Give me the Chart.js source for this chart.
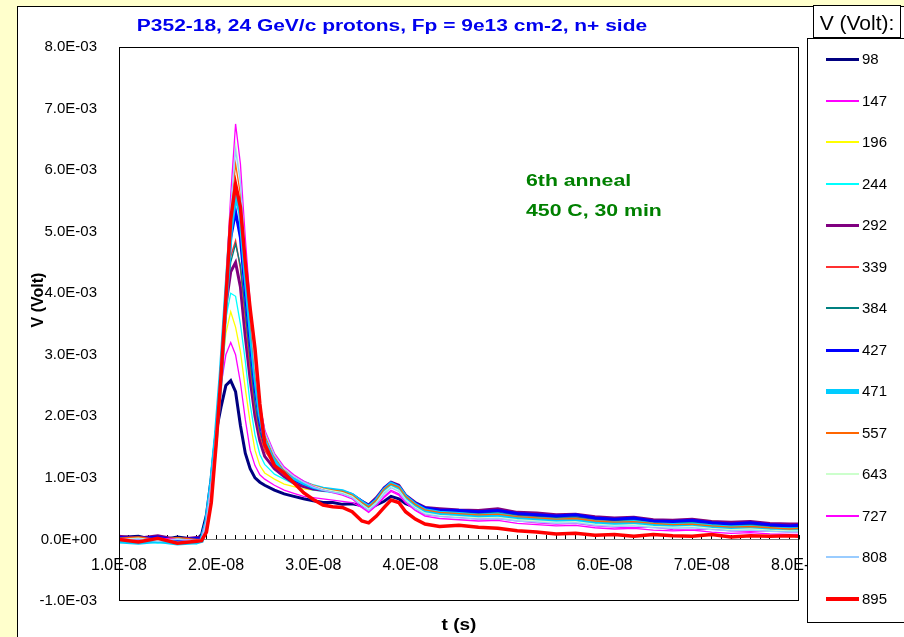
<!DOCTYPE html>
<html>
<head>
<meta charset="utf-8">
<script src="https://cdn.jsdelivr.net/npm/chart.js@4.4.1/dist/chart.umd.min.js"></script>
<style>
  html, body { margin: 0; padding: 0; background: #ffffcc; }
  canvas { display: block; }
</style>
</head>
<body>
<canvas id="pulse" width="904" height="637"></canvas>
<script>
// time axis in ns (labels shown in seconds), signal in mV (labels shown in volts)
const tNs = [10, 12, 14, 16, 18, 18.5, 19, 19.5, 20, 20.5, 21, 21.5, 22, 22.5, 23, 23.5, 24, 24.5, 25,
  26, 27, 28, 29, 30, 31, 32, 33, 34, 35, 35.7, 36.5, 37.3, 38, 38.8, 39.5, 40.5, 41.5, 43,
  45, 47, 49, 51, 53, 55, 57, 59, 61, 63, 65, 67, 69, 71, 73, 75, 77, 79, 80];

const voltages = ['98', '147', '196', '244', '292', '339', '384', '427', '471', '557', '643', '727', '808', '895'];

const v98 = [0.03, 0.05, -0.02, 0.04, 0.0,
  0.08, 0.4, 1.0, 1.75, 2.15, 2.5, 2.58, 2.4, 1.85, 1.4, 1.15, 1.0, 0.93, 0.88,
  0.8, 0.74, 0.7, 0.66, 0.63, 0.6, 0.6, 0.57, 0.58, 0.55,
  0.5, 0.56, 0.62, 0.7, 0.66, 0.58, 0.52, 0.47, 0.46,
  0.44, 0.45, 0.4, 0.42, 0.38, 0.36, 0.37, 0.33, 0.31, 0.33, 0.28, 0.27, 0.29, 0.26, 0.24, 0.25, 0.22, 0.21, 0.22];
const v147 = [0.0, 0.03, 0.05, -0.03, 0.02,
  0.02, 0.3, 0.9, 1.7, 2.5, 3.0, 3.2, 3.0, 2.55, 1.95, 1.45, 1.2, 1.05, 0.98,
  0.88, 0.8, 0.75, 0.7, 0.68, 0.66, 0.64, 0.62, 0.6, 0.52,
  0.46, 0.55, 0.68, 0.78, 0.72, 0.6, 0.48, 0.4, 0.38,
  0.36, 0.33, 0.34, 0.3, 0.27, 0.25, 0.26, 0.22, 0.2, 0.19, 0.2, 0.16, 0.15, 0.17, 0.14, 0.13, 0.14, 0.12, 0.12];
const v196 = [-0.02, 0.02, 0.0, 0.03, -0.03,
  0.0, 0.3, 0.9, 1.7, 2.6, 3.35, 3.7, 3.45, 3.05, 2.45, 1.9, 1.45, 1.2, 1.08,
  0.98, 0.9, 0.86, 0.82, 0.8, 0.8, 0.78, 0.76, 0.72, 0.62,
  0.55, 0.66, 0.8, 0.9, 0.84, 0.7, 0.6, 0.52, 0.5,
  0.48, 0.46, 0.47, 0.43, 0.41, 0.4, 0.38, 0.36, 0.35, 0.36, 0.32, 0.31, 0.33, 0.3, 0.27, 0.28, 0.26, 0.24, 0.25];
const v244 = [-0.05, -0.03, -0.06, -0.04, -0.07,
  -0.03, 0.28, 0.9, 1.7, 2.7, 3.6, 4.0, 3.95, 3.5, 2.9, 2.2, 1.7, 1.38, 1.22,
  1.06, 0.98, 0.9, 0.85, 0.8, 0.78, 0.76, 0.75, 0.7, 0.6,
  0.52, 0.62, 0.78, 0.88, 0.82, 0.68, 0.57, 0.48, 0.44,
  0.42, 0.4, 0.41, 0.37, 0.35, 0.33, 0.34, 0.3, 0.29, 0.3, 0.26, 0.25, 0.26, 0.23, 0.21, 0.22, 0.19, 0.18, 0.18];
const v292 = [0.05, 0.02, 0.06, 0.0, 0.03,
  0.02, 0.3, 0.9, 1.7, 2.7, 3.8, 4.35, 4.5, 4.1, 3.3, 2.6, 2.0, 1.6, 1.35,
  1.15, 1.02, 0.92, 0.86, 0.82, 0.8, 0.79, 0.77, 0.72, 0.62,
  0.56, 0.68, 0.84, 0.93, 0.88, 0.72, 0.6, 0.52, 0.5,
  0.48, 0.47, 0.5, 0.44, 0.43, 0.4, 0.41, 0.37, 0.35, 0.36, 0.32, 0.31, 0.33, 0.29, 0.28, 0.29, 0.26, 0.25, 0.25];
const v339 = [0.0, -0.02, 0.03, -0.04, 0.01,
  0.0, 0.3, 0.9, 1.7, 2.7, 3.85, 4.6, 4.85, 4.4, 3.6, 2.8, 2.15, 1.7, 1.45,
  1.2, 1.05, 0.95, 0.88, 0.83, 0.8, 0.78, 0.76, 0.71, 0.6,
  0.53, 0.64, 0.8, 0.9, 0.84, 0.69, 0.57, 0.49, 0.46,
  0.44, 0.42, 0.43, 0.39, 0.37, 0.35, 0.36, 0.32, 0.3, 0.31, 0.28, 0.26, 0.27, 0.24, 0.22, 0.23, 0.21, 0.19, 0.2];
const v384 = [0.02, 0.0, -0.03, 0.02, -0.01,
  0.0, 0.3, 0.9, 1.7, 2.7, 3.85, 4.5, 4.8, 4.45, 3.7, 2.9, 2.2, 1.75, 1.5,
  1.22, 1.07, 0.97, 0.9, 0.84, 0.81, 0.79, 0.77, 0.72, 0.61,
  0.54, 0.65, 0.81, 0.91, 0.85, 0.7, 0.58, 0.5, 0.47,
  0.45, 0.43, 0.44, 0.4, 0.38, 0.36, 0.37, 0.33, 0.31, 0.32, 0.28, 0.27, 0.28, 0.25, 0.23, 0.24, 0.21, 0.2, 0.2];
const v427 = [0.03, 0.01, 0.04, -0.02, 0.02,
  0.0, 0.3, 0.9, 1.7, 2.7, 3.9, 4.9, 5.32, 4.9, 4.0, 3.2, 2.45, 1.9, 1.55,
  1.25, 1.08, 0.97, 0.9, 0.84, 0.81, 0.8, 0.78, 0.73, 0.62,
  0.55, 0.66, 0.83, 0.92, 0.86, 0.71, 0.59, 0.51, 0.48,
  0.47, 0.45, 0.47, 0.42, 0.4, 0.38, 0.4, 0.35, 0.33, 0.35, 0.3, 0.29, 0.31, 0.27, 0.25, 0.27, 0.24, 0.22, 0.23];
const v471 = [-0.03, -0.05, -0.02, -0.06, -0.04,
  -0.02, 0.28, 0.9, 1.7, 2.7, 3.9, 5.05, 5.62, 5.3, 4.35, 3.5, 2.7, 2.05, 1.65,
  1.3, 1.1, 1.0, 0.92, 0.86, 0.82, 0.8, 0.78, 0.72, 0.6,
  0.52, 0.63, 0.8, 0.9, 0.84, 0.69, 0.56, 0.47, 0.43,
  0.41, 0.38, 0.4, 0.35, 0.33, 0.31, 0.32, 0.28, 0.26, 0.28, 0.24, 0.23, 0.24, 0.21, 0.19, 0.2, 0.17, 0.16, 0.16];
const v557 = [0.02, 0.04, 0.0, 0.03, 0.0,
  0.0, 0.3, 0.9, 1.7, 2.75, 4.0, 5.3, 6.1, 5.6, 4.5, 3.6, 2.75, 2.1, 1.7,
  1.35, 1.13, 1.02, 0.94, 0.88, 0.83, 0.8, 0.78, 0.72, 0.6,
  0.53, 0.64, 0.82, 0.9, 0.85, 0.7, 0.57, 0.48, 0.44,
  0.42, 0.4, 0.41, 0.37, 0.35, 0.33, 0.34, 0.3, 0.28, 0.29, 0.26, 0.24, 0.25, 0.22, 0.2, 0.21, 0.19, 0.17, 0.18];
const v643 = [0.0, 0.02, -0.02, 0.01, -0.02,
  0.0, 0.3, 0.9, 1.7, 2.75, 4.05, 5.45, 6.42, 5.85, 4.7, 3.75, 2.85, 2.15, 1.75,
  1.38, 1.15, 1.03, 0.94, 0.87, 0.82, 0.79, 0.76, 0.7, 0.57,
  0.49, 0.6, 0.77, 0.86, 0.8, 0.65, 0.52, 0.43, 0.39,
  0.37, 0.35, 0.36, 0.32, 0.3, 0.28, 0.29, 0.25, 0.23, 0.24, 0.21, 0.2, 0.21, 0.18, 0.16, 0.17, 0.15, 0.14, 0.14];
const v727 = [0.01, -0.01, 0.02, 0.0, -0.02,
  0.0, 0.3, 0.9, 1.7, 2.8, 4.1, 5.6, 6.75, 6.1, 4.9, 3.85, 2.9, 2.2, 1.78,
  1.4, 1.18, 1.05, 0.95, 0.86, 0.8, 0.76, 0.72, 0.66, 0.52,
  0.44, 0.55, 0.7, 0.8, 0.74, 0.6, 0.47, 0.38, 0.34,
  0.32, 0.3, 0.31, 0.26, 0.24, 0.22, 0.23, 0.19, 0.17, 0.18, 0.15, 0.14, 0.15, 0.12, 0.1, 0.11, 0.09, 0.08, 0.08];
const v808 = [-0.01, 0.01, -0.03, 0.0, -0.02,
  0.0, 0.3, 0.9, 1.7, 2.75, 4.05, 5.4, 6.32, 5.8, 4.65, 3.7, 2.8, 2.15, 1.74,
  1.37, 1.15, 1.02, 0.93, 0.85, 0.8, 0.77, 0.74, 0.68, 0.55,
  0.47, 0.58, 0.74, 0.84, 0.78, 0.63, 0.5, 0.41, 0.37,
  0.35, 0.33, 0.34, 0.3, 0.28, 0.26, 0.27, 0.23, 0.21, 0.22, 0.19, 0.18, 0.19, 0.16, 0.14, 0.15, 0.13, 0.12, 0.12];
const v895 = [0.0, -0.04, 0.02, -0.06, -0.03,
  -0.02, 0.12, 0.6, 1.55, 2.65, 3.9, 5.2, 5.77, 5.4, 4.5, 3.75, 3.1, 2.2, 1.55,
  1.2, 1.08, 0.92, 0.76, 0.65, 0.56, 0.53, 0.52, 0.45, 0.3,
  0.27, 0.38, 0.52, 0.64, 0.6, 0.45, 0.33, 0.25, 0.21,
  0.23, 0.2, 0.18, 0.14, 0.12, 0.09, 0.1, 0.07, 0.08, 0.05, 0.08, 0.06, 0.05, 0.08, 0.04, 0.06, 0.05, 0.06, 0.05];

const seriesValues = [v98, v147, v196, v244, v292, v339, v384, v427, v471, v557, v643, v727, v808, v895];

const xTickLabels = ['1.0E-08', '2.0E-08', '3.0E-08', '4.0E-08', '5.0E-08', '6.0E-08', '7.0E-08', '8.0E-08'];
const yTickLabels = ['-1.0E-03', '0.0E+00', '1.0E-03', '2.0E-03', '3.0E-03', '4.0E-03', '5.0E-03', '6.0E-03', '7.0E-03', '8.0E-03'];

// styles
const lineColors = ['#000080', '#ff00ff', '#ffff00', '#00ffff', '#800080', '#ff3030', '#008080',
  '#0000ff', '#00ccff', '#ff6600', '#ccffcc', '#ff00ff', '#99ccff', '#ff0000'];
const lineWidths = [3, 1.3, 1.3, 1.3, 3, 1.5, 1.3, 3, 4.5, 1.3, 1.3, 1.3, 1.3, 3.5];

const FONT = "'Liberation Sans', Arial, sans-serif";

function stretchText(ctx, text, x, y, font, color, sx, align) {
  ctx.save();
  ctx.font = font;
  ctx.fillStyle = color;
  ctx.textAlign = align;
  ctx.textBaseline = 'alphabetic';
  ctx.translate(x, y);
  ctx.scale(sx, 1);
  ctx.fillText(text, 0, 0);
  ctx.restore();
}

const decorations = {
  id: 'decorations',
  beforeDraw(chart) {
    const ctx = chart.ctx;
    ctx.save();
    ctx.fillStyle = '#ffffcc';
    ctx.fillRect(0, 0, chart.width, chart.height);
    ctx.fillStyle = '#ffffff';
    ctx.fillRect(17.5, 6.5, 900, 640);
    ctx.strokeStyle = '#000000';
    ctx.lineWidth = 1;
    ctx.strokeRect(17.5, 6.5, 900, 640);
    ctx.restore();
  },
  afterDraw(chart) {
    const ctx = chart.ctx;
    const ca = chart.chartArea;
    ctx.save();
    // plot area frame
    ctx.strokeStyle = '#000000';
    ctx.lineWidth = 1;
    ctx.strokeRect(ca.left + 0.5, ca.top + 0.5, ca.right - ca.left - 1, ca.bottom - ca.top - 1);

    // titles
    stretchText(ctx, 'P352-18, 24 GeV/c protons, Fp = 9e13 cm-2, n+ side', 392, 31,
      'bold 16px ' + FONT, '#0000ee', 1.31, 'center');
    stretchText(ctx, '6th anneal', 526, 186, 'bold 17px ' + FONT, '#008000', 1.25, 'left');
    stretchText(ctx, '450 C, 30 min', 526, 216, 'bold 17px ' + FONT, '#008000', 1.25, 'left');
    stretchText(ctx, 't (s)', 459, 630, 'bold 17px ' + FONT, '#000000', 1.12, 'center');

    ctx.save();
    ctx.translate(43, 300);
    ctx.rotate(-Math.PI / 2);
    ctx.font = 'bold 16px ' + FONT;
    ctx.fillStyle = '#000000';
    ctx.textAlign = 'center';
    ctx.fillText('V (Volt)', 0, 0);
    ctx.restore();

    // legend title box
    ctx.fillStyle = '#ffffff';
    ctx.fillRect(813.5, 5.5, 87, 32);
    ctx.strokeRect(813.5, 5.5, 87, 32);
    stretchText(ctx, 'V (Volt):', 857, 30, '21px ' + FONT, '#000000', 1.0, 'center');

    // legend box
    ctx.fillStyle = '#ffffff';
    ctx.fillRect(807.5, 38.5, 110, 584);
    ctx.strokeStyle = '#000000';
    ctx.strokeRect(807.5, 38.5, 110, 584);
    ctx.font = '15px ' + FONT;
    ctx.textBaseline = 'middle';
    ctx.textAlign = 'left';
    chart.data.datasets.forEach((ds, i) => {
      const row = Math.round(59 + i * 41.5);
      const lw = ds.borderWidth < 2 ? 2 : Math.round(ds.borderWidth);
      const y = lw % 2 === 1 ? row + 0.5 : row;
      ctx.strokeStyle = ds.borderColor;
      ctx.lineWidth = lw;
      ctx.lineCap = 'butt';
      ctx.beginPath();
      ctx.moveTo(826, y);
      ctx.lineTo(859, y);
      ctx.stroke();
      ctx.fillStyle = '#000000';
      ctx.fillText(ds.label, 862, row + 1);
    });
    ctx.restore();
  }
};

const datasets = voltages.map((name, i) => ({
  label: name,
  data: seriesValues[i].map((v, k) => ({ x: tNs[k], y: v })),
  borderColor: lineColors[i],
  borderWidth: lineWidths[i],
  pointRadius: 0,
  tension: 0,
  fill: false,
  order: voltages.length - 1 - i
}));

new Chart(document.getElementById('pulse'), {
  type: 'line',
  data: { datasets: datasets },
  options: {
    responsive: false,
    animation: false,
    devicePixelRatio: 1,
    layout: { padding: { left: 17, top: 47, right: 105, bottom: 36 } },
    plugins: {
      legend: { display: false },
      tooltip: { enabled: false }
    },
    scales: {
      x: {
        type: 'linear',
        position: { y: 0 },
        min: 10,
        max: 80,
        grid: { display: true, drawOnChartArea: false, drawTicks: true, tickLength: -5, tickColor: '#000000' },
        border: { display: true, color: '#808080', width: 1 },
        ticks: {
          stepSize: 1,
          autoSkip: false,
          maxRotation: 0,
          padding: 22,
          color: '#000000',
          font: { family: FONT, size: 16 },
          callback: (v) => {
            const n = Math.round(v);
            return n % 10 === 0 ? xTickLabels[n / 10 - 1] : '';
          }
        }
      },
      y: {
        type: 'linear',
        min: -1,
        max: 8,
        grid: { display: false },
        border: { display: false },
        afterFit: (scale) => { scale.width = 102; },
        ticks: {
          stepSize: 1,
          padding: 14,
          color: '#000000',
          font: { family: FONT, size: 15 },
          callback: (v) => yTickLabels[Math.round(v) + 1]
        }
      }
    }
  },
  plugins: [decorations]
});
</script>
</body>
</html>
